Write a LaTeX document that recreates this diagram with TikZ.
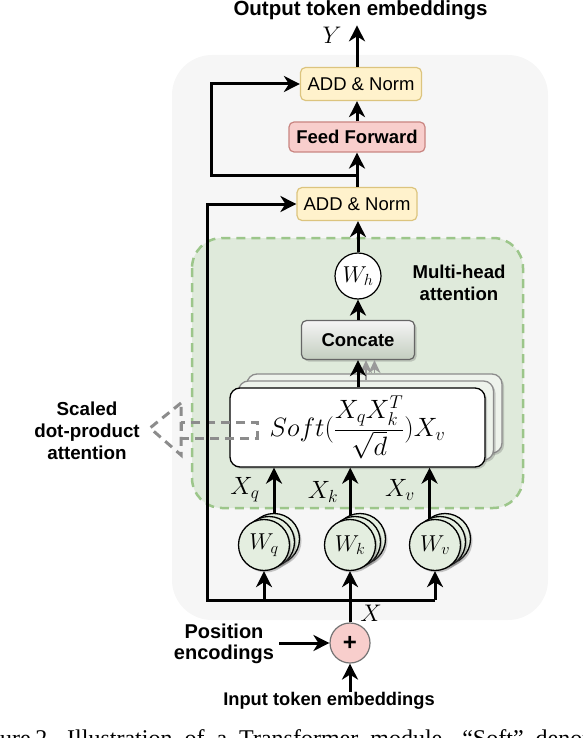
\RequirePackage{fix-cm}
\documentclass[tikz,border=0pt]{standalone}
\usepackage{fontspec}
\setmainfont{Liberation Sans}
\newfontfamily\capfont{Liberation Serif}
\usetikzlibrary{arrows.meta,shadows}

\definecolor{panelgray}{HTML}{F6F6F6}
\definecolor{mhfill}{HTML}{DFEADB}
\definecolor{mhdraw}{HTML}{9CC68A}
\definecolor{addfill}{HTML}{FFF2CC}
\definecolor{adddraw}{HTML}{DCC47E}
\definecolor{fffill}{HTML}{F8CECC}
\definecolor{ffdraw}{HTML}{C98581}
\definecolor{wfill}{HTML}{E4EEE0}
\definecolor{softback}{HTML}{EEF3EC}
\definecolor{conbot}{HTML}{C3CEBF}

\tikzset{
  arr/.style={line width=3pt, -{Stealth[length=16pt,width=16pt,inset=5pt]}},
  ghost/.style={line width=1.6pt, draw=black!40, -{Stealth[length=13pt,width=12pt,inset=4pt]}},
  callout/.style={draw=black!45, line width=3pt, dash pattern=on 9pt off 6pt},
  lbl/.style={font=\fontsize{18.6}{21.5}\selectfont\bfseries, align=center},
  mlbl/.style={font=\fontsize{25}{27}\selectfont},
  addbox/.style={rectangle, rounded corners=5pt, fill=addfill, draw=adddraw, line width=1.2pt,
    minimum width=120pt, minimum height=33pt, font=\fontsize{18.5}{20}\selectfont},
  wcirc/.style={circle, draw=black, line width=1.3pt, fill=wfill, minimum size=51pt,
    font=\fontsize{23}{25}\selectfont,
    drop shadow={shadow xshift=2pt, shadow yshift=-2pt, opacity=0.35, fill=black!60}},
  softbox/.style={rectangle, rounded corners=10pt, line width=1.3pt, minimum width=255pt, minimum height=79pt,
    drop shadow={shadow xshift=2pt, shadow yshift=-2pt, opacity=0.3, fill=black!60}},
}

\begin{document}
\begin{tikzpicture}[x=1pt,y=-1pt, every node/.style={inner sep=0pt}]
  \useasboundingbox (0,0) rectangle (582,738);
  % panels
  \fill[panelgray, rounded corners=40pt] (172,55) rectangle (548,620);
  \draw[fill=mhfill, draw=mhdraw, line width=2.5pt, dash pattern=on 9pt off 6pt, rounded corners=30pt]
    (192,238) rectangle (523,508);

  % top part
  \node[lbl, font=\fontsize{20.5}{22}\selectfont\bfseries, anchor=base, outer ysep=5pt] (out) at (360.5,16) {Output token embeddings};
  \node[mlbl, font=\fontsize{24}{26}\selectfont] (ylab) at (332,35) {$Y$};
  \node[addbox, minimum width=121pt] (addtop) at (361,84) {ADD \& Norm};
  \node[rectangle, rounded corners=5pt, fill=fffill, draw=ffdraw, line width=1.2pt, minimum width=136pt,
    minimum height=30pt, font=\fontsize{18.5}{20}\selectfont\bfseries] (ff) at (357,137) {Feed Forward};
  \node[addbox] (addbot) at (357,204) {ADD \& Norm};
  \coordinate (sk) at (357,176);
  \coordinate (skL) at (211,176);

  % multi-head attention
  \node[circle, draw=black, line width=1.2pt, fill=white, minimum size=46pt, font=\fontsize{23}{25}\selectfont] (Wh) at (358,276) {$W_h$};
  \node[lbl] (mhlbl) at (459,283) {Multi-head\\attention};
  \node[rectangle, rounded corners=5pt, draw=black!60, line width=1.2pt, top color=black!4, bottom color=conbot,
    minimum width=113pt, minimum height=39pt, font=\fontsize{18.5}{20}\selectfont\bfseries,
    drop shadow={shadow xshift=2pt, shadow yshift=-2pt, opacity=0.3, fill=black!60}] (con) at (358,340) {Concate};
  \node[softbox, draw=black!45, fill=softback] (sb2) at (374.5,413.5) {};
  \node[softbox, draw=black!45, fill=softback] (sb1) at (366,420.5) {};
  \draw[ghost] (sb2.north) -- (sb2.north |- con.south);
  \draw[ghost] (sb1.north) -- (sb1.north |- con.south);
  \node[softbox, draw=black, fill=white, font=\fontsize{26.5}{28}\selectfont] (soft) at (357.5,427.5)
    {$\displaystyle Soft(\frac{X_qX_k^T}{\sqrt{d}})X_v$};

  % scaled dot-product callout
  \draw[callout] (181,403) -- (150,428) -- (181,455) -- cycle;
  \draw[callout] (181,422) rectangle (257,438);
  \node[lbl, font=\fontsize{18.8}{22}\selectfont\bfseries] (sdpa) at (87,431) {Scaled\\dot-product\\attention};

  % projections
  \node[wcirc] (Wqb) at (274,539) {};
  \node[wcirc] (Wqm) at (269,542) {};
  \node[wcirc] (Wq) at (264,545) {$W_q$};
  \node[wcirc] (Wkb) at (360,539) {};
  \node[wcirc] (Wkm) at (355,542) {};
  \node[wcirc] (Wk) at (350,545) {$W_k$};
  \node[wcirc] (Wvb) at (445,539) {};
  \node[wcirc] (Wvm) at (440,542) {};
  \node[wcirc] (Wv) at (435,545) {$W_v$};
  \node[mlbl] (xq) at (245,490) {$X_q$};
  \node[mlbl] (xk) at (323,492) {$X_k$};
  \node[mlbl] (xv) at (400,490) {$X_v$};

  % input
  \node[circle, draw=black!55, line width=1.2pt, fill=fffill, minimum size=40pt,
    font=\fontsize{24}{26}\selectfont\bfseries] (plus) at (350,643) {+};
  \node[mlbl, font=\fontsize{24}{26}\selectfont] (xlab) at (371,613) {$X$};
  \node[lbl, font=\fontsize{20}{21.5}\selectfont\bfseries, inner xsep=5pt] (poslbl) at (224,644) {Position\\encodings};
  \node[lbl, font=\fontsize{18.3}{20}\selectfont\bfseries] (inlbl) at (329,701) {Input token embeddings};
  \coordinate (busL) at (207,600);

  % connectors
  \draw[arr] (addtop.north -| ff.north) -- (out.south -| ff.north);
  \draw[arr] (ff.north) -- (addtop.south -| ff.north);
  \draw[arr] (addbot.north) -- (ff.south);
  \draw[arr] (sk) -- (skL) |- (addtop.west);
  \draw[arr] (Wh.north) -- (Wh.north |- addbot.south);
  \draw[arr] (con.north) -- (Wh.south);
  \draw[arr] (soft.north -| con.south) -- (con.south);
  \draw[arr] (Wqb.north) -- (Wqb.north |- soft.south);
  \draw[arr] (Wkb.112) -- (Wkb.112 |- soft.south);
  \draw[arr] (Wv.102) -- (Wv.102 |- soft.south);
  \draw[arr] (busL -| Wv.south) -- (busL) |- (addbot.west);
  \draw[arr] (busL -| Wq.south) -- (Wq.south);
  \draw[arr] (busL -| Wk.south) -- (Wk.south);
  \draw[arr] (busL -| Wv.south) -- (Wv.south);
  \draw[line width=3pt] (plus.north) -- (plus.north |- busL);
  \draw[arr] (poslbl.east |- plus.west) -- (plus.west);
  \draw[arr] (plus.south |- inlbl.north) -- (plus.south);

  % caption, cut by the page edge
  \node[anchor=base west, font=\capfont\fontsize{24}{28}\selectfont] (cap) at (-32,746)
    {\spaceskip=12pt Figure\kern4.4pt 2. Illustration of a Transformer module. “Soft” denotes};
\end{tikzpicture}
\end{document}
